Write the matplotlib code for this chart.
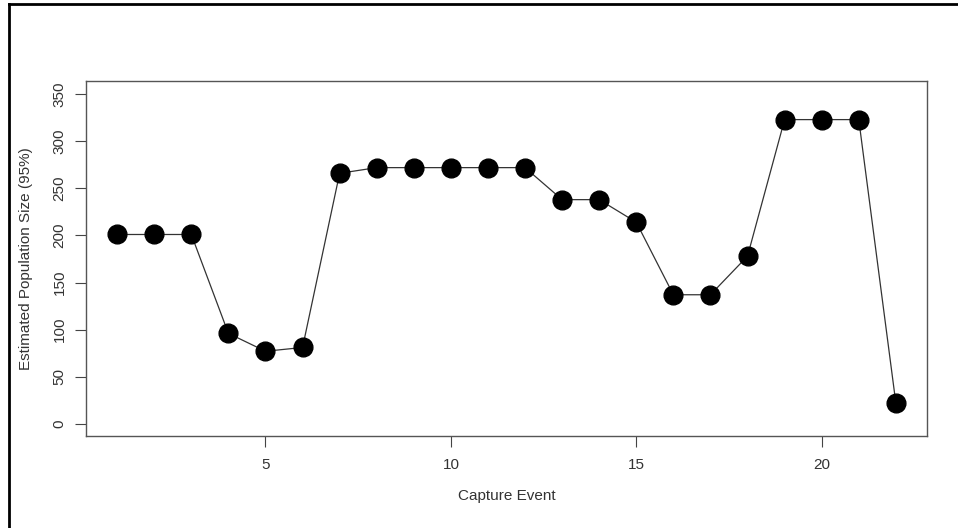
import matplotlib
matplotlib.use("Agg")
import matplotlib.pyplot as plt
from matplotlib.lines import Line2D

plt.rcParams['font.family'] = ['Liberation Sans', 'DejaVu Sans']

capture_event = list(range(1, 23))
pop_size = [201, 201, 201, 96, 77, 81, 266, 272, 272, 272, 272, 272,
            238, 238, 214, 137, 137, 178, 323, 323, 323, 22]
x_ticks = [5, 10, 15, 20]
y_ticks = [0, 50, 100, 150, 200, 250, 300, 350]

fig = plt.figure(figsize=(9.58, 5.28), dpi=100)
ax = fig.add_axes([86/958, 1-436/528, (927-86)/958, (436-81)/528])

ax.plot(capture_event, pop_size, color='#333333', lw=0.9, zorder=2)
ax.plot(capture_event, pop_size, 'o', color='black', ms=13.5, zorder=3)

ax.set_xlim(0.16, 22.84)
ax.set_ylim(-13, 364)
ax.set_xticks(x_ticks)
ax.set_yticks(y_ticks)
ax.set_yticklabels([str(v) for v in y_ticks], rotation=90, va='center')
ax.tick_params(axis='both', length=8, width=0.8, color='#444444', labelsize=11, labelcolor='#333333')
ax.tick_params(axis='x', pad=8)
ax.tick_params(axis='y', pad=6)
for s in ax.spines.values():
    s.set_color('#555555')
    s.set_linewidth(1.0)

ax.set_xlabel('Capture Event', fontsize=11, color='#333333', labelpad=12)
ax.set_ylabel('Estimated Population Size (95%)', fontsize=11, color='#333333', labelpad=14)

# outer border (top and left)
fig.add_artist(Line2D([9/958, 9/958], [0, 1-4/528], transform=fig.transFigure, color='black', lw=2))
fig.add_artist(Line2D([9/958, 1], [1-4/528, 1-4/528], transform=fig.transFigure, color='black', lw=2))

fig.savefig('out.png', dpi=100)
